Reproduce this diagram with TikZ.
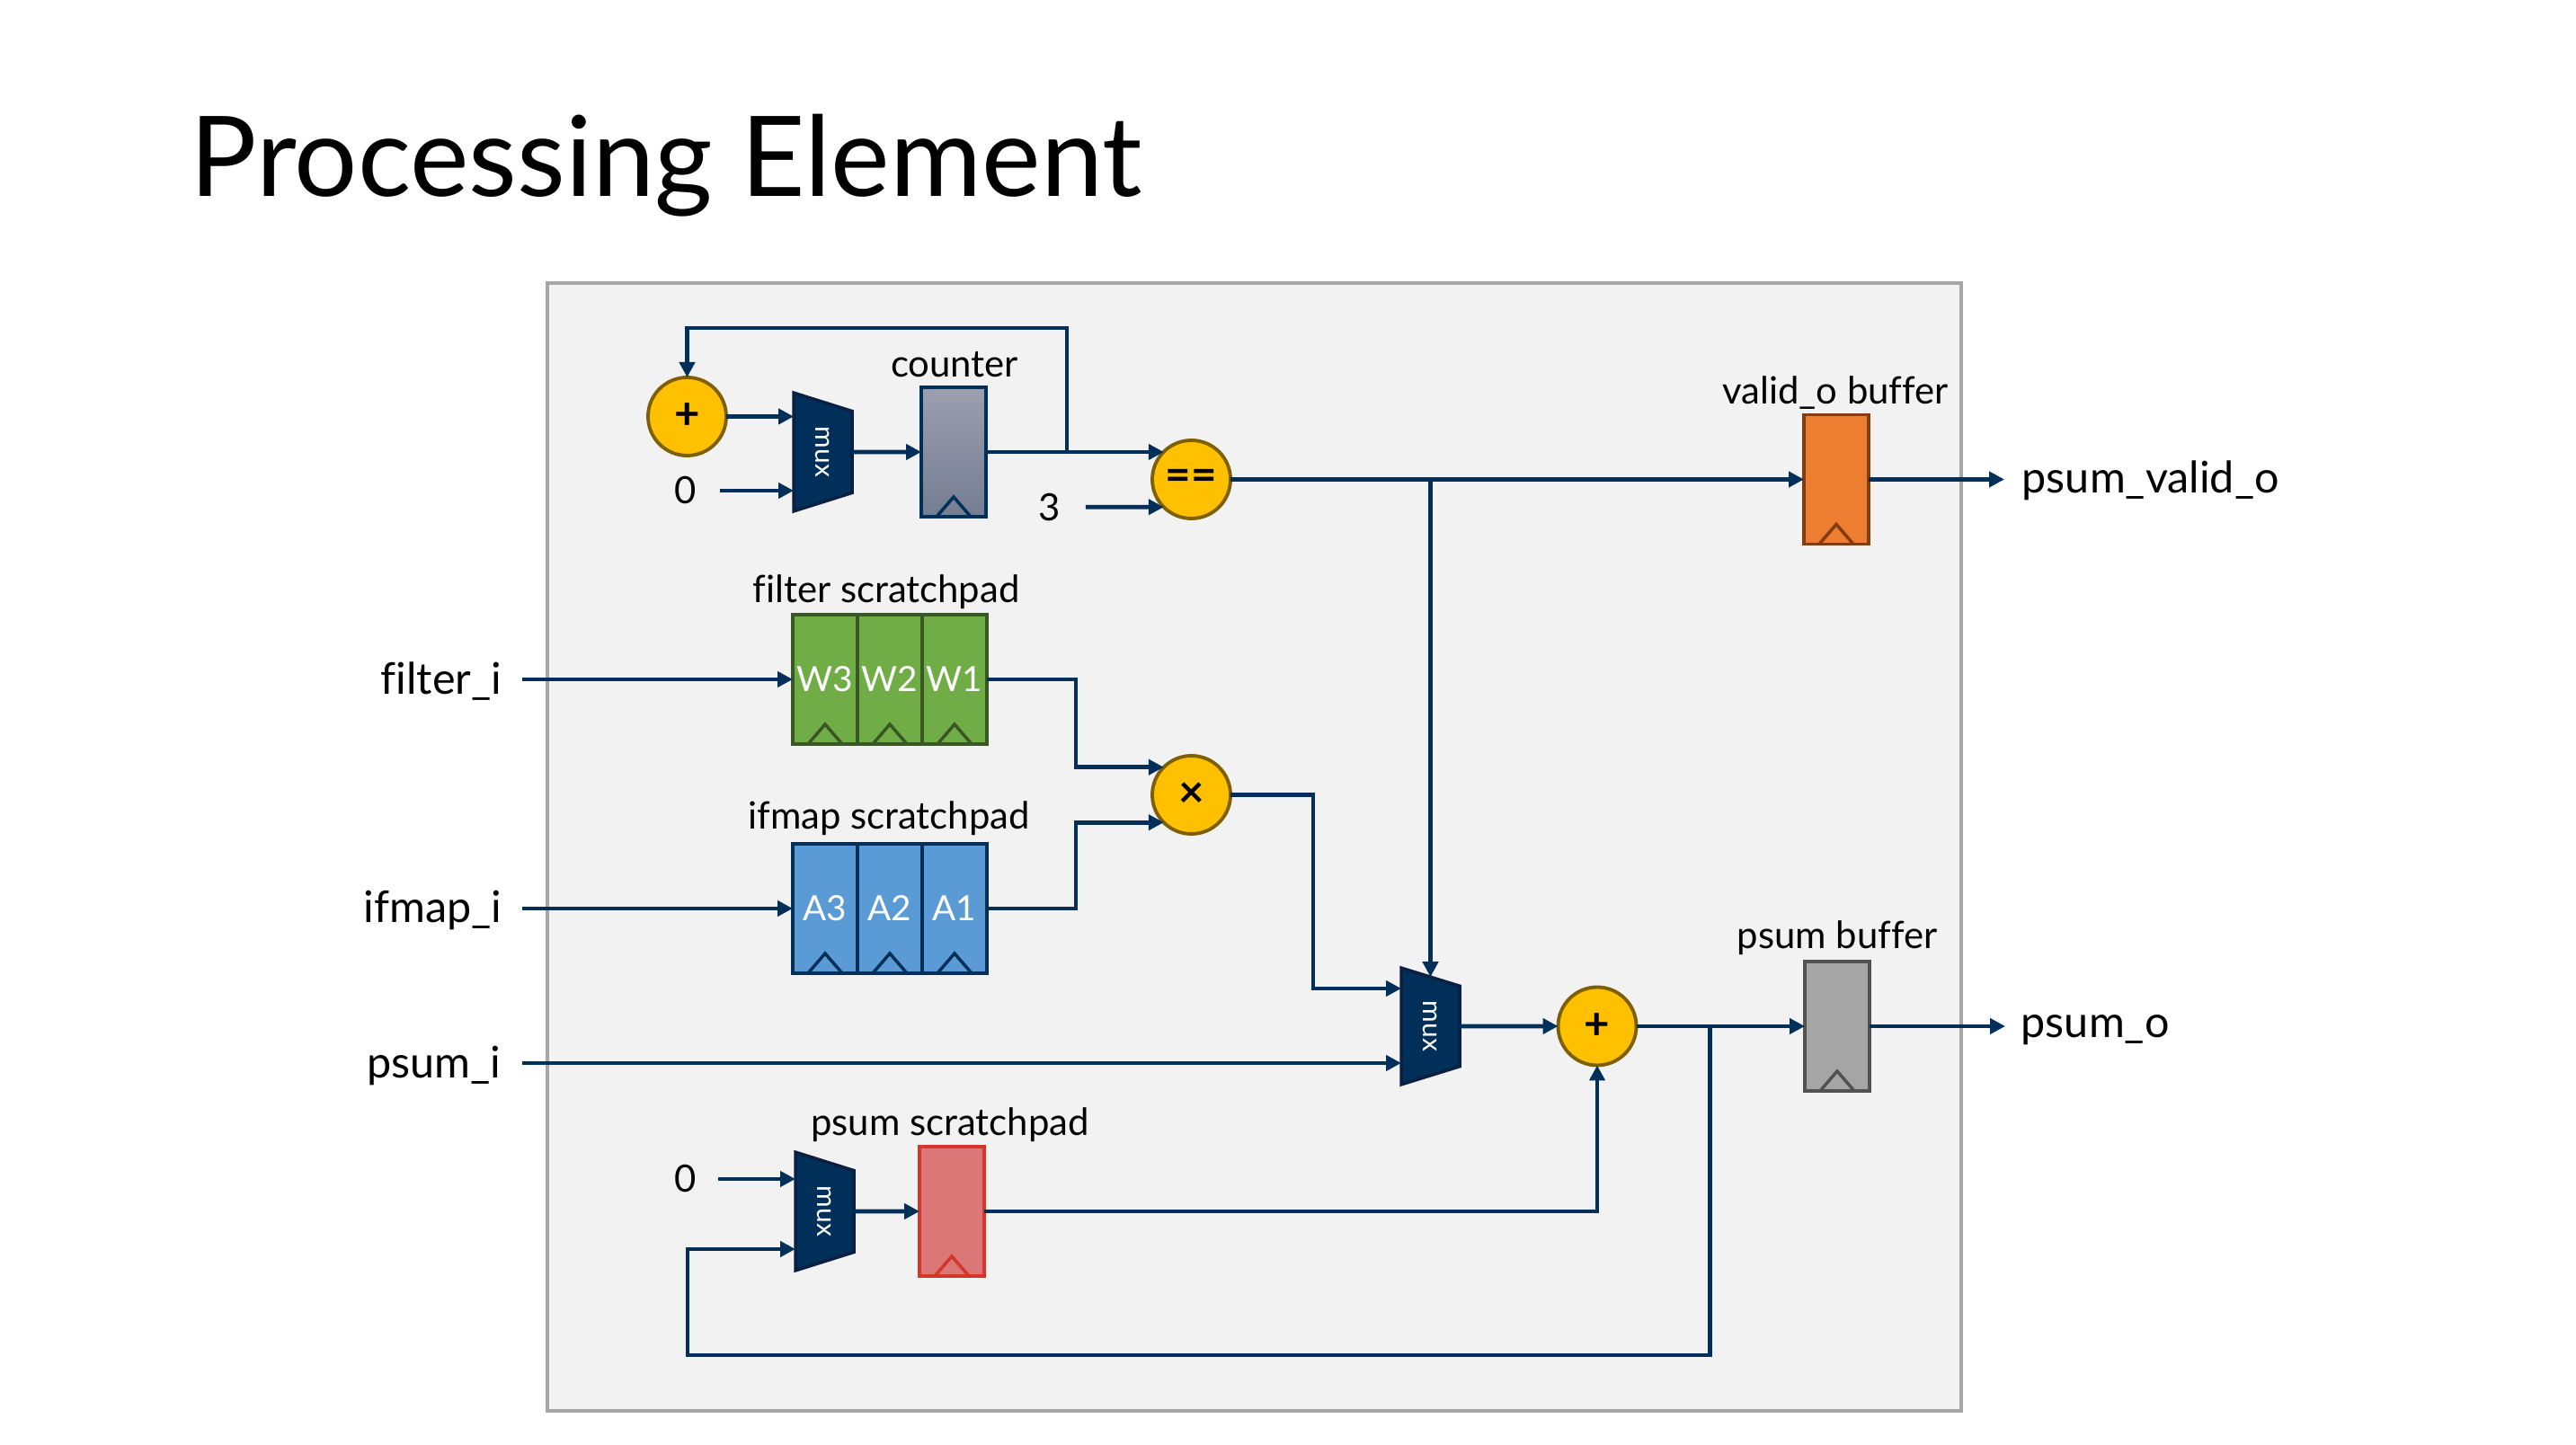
\documentclass[tikz,border=0pt]{standalone}
\usepackage{fontspec}
\setmainfont[Ligatures=NoCommon]{Lato}
\usetikzlibrary{arrows.meta,shapes.geometric,calc}
\definecolor{wirecol}{HTML}{00305A}
\definecolor{muxline}{HTML}{0B1F40}
\definecolor{gold}{HTML}{FFC000}
\definecolor{goldline}{HTML}{7F6000}
\definecolor{wgreen}{HTML}{70AD47}
\definecolor{wgreenline}{HTML}{385723}
\definecolor{ablue}{HTML}{5B9BD5}
\definecolor{abrown}{HTML}{843C0C}
\definecolor{vorange}{HTML}{ED7D31}
\definecolor{sgrey}{HTML}{A5A5A5}
\definecolor{sgreyline}{HTML}{525252}
\definecolor{pred}{HTML}{DB7777}
\definecolor{predline}{HTML}{D5352A}
\definecolor{cnttop}{HTML}{9B9FAE}
\definecolor{cntbot}{HTML}{757D92}
\tikzset{
         wire/.style={draw=wirecol,line width=1.3pt,-{Triangle[length=1.7mm,width=1.7mm]}},
         lbl/.style={font=\fontsize{11.9}{13}\selectfont,inner sep=0pt},
         iolbl/.style={font=\fontsize{13.8}{15}\selectfont,inner sep=0pt},
         oper/.style={circle,fill=gold,draw=goldline,line width=1.1pt,minimum size=0.87cm,inner sep=0pt,outer sep=0pt,font=\fontsize{14}{14}\selectfont\bfseries},
         muxbox/.style={trapezium,rotate=-90,trapezium stretches=true,trapezium angle=51,fill=wirecol,draw=muxline,line width=1pt,minimum width=#1,minimum height=0.65cm,inner sep=0pt,outer sep=0pt,text=white,font=\fontsize{8.5}{9}\selectfont},
         reg/.style 2 args={rectangle,fill=#1,draw=#2,line width=1pt,minimum width=0.72cm,minimum height=1.44cm,inner sep=0pt,outer sep=0pt,text=white,font=\fontsize{11}{13}\selectfont,
           path picture={\draw[#2,line width=1pt](path picture bounding box.south)++(-0.19,0)--++(0.19,0.22)--++(0.19,-0.22);}}
        }
\begin{document}
\begin{tikzpicture}
\useasboundingbox(0,0)rectangle(28.66,16.08);
\node[font=\fontsize{35.3}{42}\selectfont,anchor=base west,inner sep=0pt](title)at(2.11,13.89){Processing Element};
\node[rectangle,fill=black!5,draw=black!35,line width=1.1pt,minimum width=15.73cm,minimum height=12.55cm,inner sep=0pt,outer sep=0pt](pebox)at(13.955,6.655){};
%counter row
\node[oper](addcnt)at(7.645,11.445){+};
\node[muxbox=1.32cm](muxcnt)at(9.155,11.05){mux};
\node[reg={sgrey}{wirecol},top color=cnttop,bottom color=cntbot](counter)at(10.61,11.05){};
\node[oper](eqcmp)at(13.255,10.745){==};
\node[lbl](zerocnt)at(7.63,10.62){0};
\node[lbl](three)at(11.68,10.437){3};
\coordinate(fbk)at(11.87,11.05);
\coordinate(fbktop)at(11.87,12.43);
%scratchpads
\node[reg={wgreen}{wgreenline}](wthree)at(9.18,8.52){W3};
\node[reg={wgreen}{wgreenline}](wtwo)at(9.90,8.52){W2};
\node[reg={wgreen}{wgreenline}](wone)at(10.62,8.52){W1};
\node[reg={ablue}{wirecol}](athree)at(9.18,5.97){A3};
\node[reg={ablue}{wirecol}](atwo)at(9.90,5.97){A2};
\node[reg={ablue}{wirecol}](aone)at(10.62,5.97){A1};
\node[oper](mulop)at(13.255,7.235){×};
%psum path
\node[muxbox=1.30cm](muxsum)at(15.915,4.66){mux};
\node[oper](addsum)at(17.77,4.66){+};
\node[muxbox=1.32cm](muxpad)at(9.175,2.60){mux};
\node[reg={pred}{predline}](psumpad)at(10.59,2.60){};
\node[lbl](zeropad)at(7.63,2.96){0};
%buffers
\node[reg={vorange}{abrown}](validbuf)at(20.43,10.745){};
\node[reg={sgrey}{sgreyline}](psumbuf)at(20.44,4.66){};
%labels
\node[lbl](cntlbl)at(10.62,12.02){counter};
\node[lbl](filtlbl)at(9.86,9.49){filter scratchpad};
\node[lbl](ifmaplbl)at(9.89,6.97){ifmap scratchpad};
\node[lbl](padlbl)at(10.57,3.56){psum scratchpad};
\node[lbl](validlbl)at(20.42,11.71){valid\_o buffer};
\node[lbl](bufflbl)at(20.44,5.64){psum buffer};
\node[iolbl,anchor=east](filteri)at(5.59,8.50){filter\_i};
\node[iolbl,anchor=east](ifmapi)at(5.59,5.95){ifmap\_i};
\node[iolbl,anchor=east](psumi)at(5.58,4.22){psum\_i};
\node[iolbl,anchor=west](validout)at(22.49,10.73){psum\_valid\_o};
\node[iolbl,anchor=west](psumout)at(22.48,4.62){psum\_o};
%wire corners
\coordinate(validend)at(22.30,10.745);
\coordinate(sumend)at(22.31,4.66);
\coordinate(filtbend)at(11.97,8.52);
\coordinate(ifmapbend)at(11.97,5.97);
\coordinate(mulbend)at(14.61,7.235);
\coordinate(muxsumin)at(15.59,5.08);
\coordinate(filterstart)at(5.81,8.52);
\coordinate(ifmapstart)at(5.81,5.97);
\coordinate(psumstart)at(5.81,4.25);
\coordinate(branch)at(19.025,4.66);
\coordinate(loopr)at(19.025,1.00);
\coordinate(loopl)at(7.65,1.00);
\coordinate(looptop)at(7.65,2.18);
%wires
\draw[wire](fbk)--(fbktop)-|(addcnt.north);
\draw[wire](addcnt.east)--(addcnt.east-|muxcnt.south);
\draw[wire]([xshift=0.25cm]zerocnt.east)--(zerocnt.east-|muxcnt.south);
\draw[wire](muxcnt.north)--(counter.west);
\draw[wire](counter.east)--(counter.east-|eqcmp.135);
\draw[wire]([xshift=0.27cm]three.east)--(eqcmp.225);
\draw[wire](eqcmp.east)--(validbuf.west);
\draw[wire](validbuf.east)--(validend);
\draw[wire](eqcmp.east-|muxsum.west)--(muxsum.west);
\draw[wire](filterstart)--(wthree.west);
\draw[wire](ifmapstart)--(athree.west);
\draw[wire](psumstart)--(psumstart-|muxsum.south);
\draw[wire](wone.east)--(filtbend)|-(mulop.135);
\draw[wire](aone.east)--(ifmapbend)|-(mulop.225);
\draw[wire](mulop.east)--(mulbend)|-(muxsumin);
\draw[wire](muxsum.north)--(addsum.west);
\draw[wire](addsum.east)--(psumbuf.west);
\draw[wire](psumbuf.east)--(sumend);
\draw[wire](psumpad.east)-|(addsum.south);
\draw[wire]([xshift=0.23cm]zeropad.east)--(zeropad.east-|muxpad.south);
\draw[wire](muxpad.north)--(psumpad.west);
\draw[wire](branch)--(loopr)--(loopl)--(looptop)--(looptop-|muxpad.south);
\end{tikzpicture}
\end{document}
